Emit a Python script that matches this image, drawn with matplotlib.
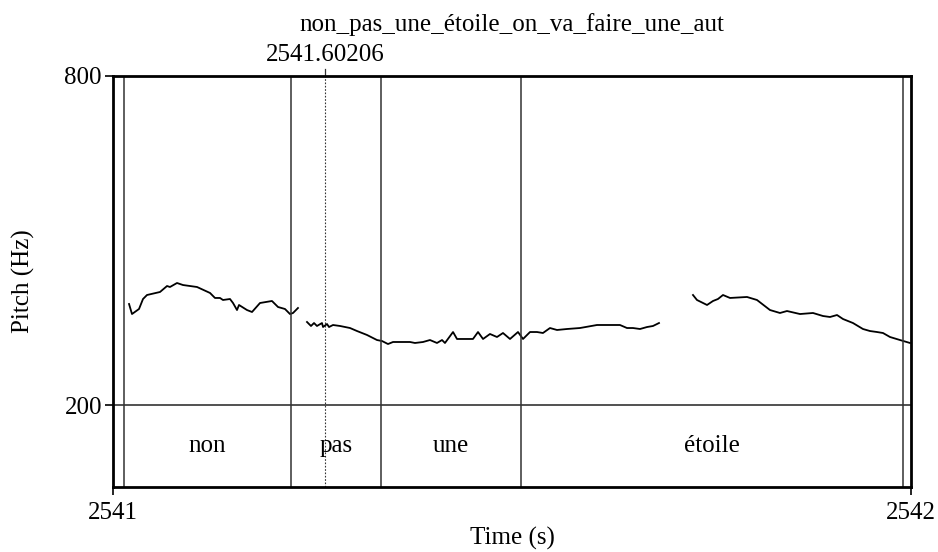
import matplotlib
matplotlib.use("Agg")
import matplotlib.pyplot as plt
import numpy as np

plt.rcParams['font.family'] = ['Liberation Serif', 'DejaVu Serif']

# ---- data ----
t0 = 2541.0
seg1_t = [0.0201, 0.0238, 0.0326, 0.0376, 0.0426, 0.0589, 0.0677, 0.0714, 0.0802, 0.0877,
          0.1053, 0.1216, 0.1278, 0.1341, 0.1378, 0.1466, 0.1504, 0.1554, 0.1579, 0.1679,
          0.1742, 0.1842, 0.1992, 0.2068, 0.2155, 0.2218, 0.2256, 0.2318]
seg1_f = [384.2, 365.9, 375.1, 393.3, 400.6, 406.1, 417.0, 415.2, 422.5, 418.8,
          415.2, 404.3, 395.2, 395.2, 391.5, 393.3, 386.0, 373.2, 382.4, 373.2,
          369.6, 386.0, 389.7, 378.7, 375.1, 365.9, 367.8, 376.9]
seg2_t = [0.2431, 0.2481, 0.2519, 0.2556, 0.2619, 0.2632, 0.2682, 0.2707, 0.2757, 0.2845,
          0.2970, 0.3058, 0.3183, 0.3308, 0.3371, 0.3446, 0.3509, 0.3634, 0.3722, 0.3784,
          0.3885, 0.3972, 0.4060, 0.4123, 0.4160, 0.4261, 0.4311, 0.4511, 0.4574, 0.4637,
          0.4724, 0.4812, 0.4887, 0.4975, 0.5075, 0.5138, 0.5226, 0.5313, 0.5388, 0.5476,
          0.5564, 0.5689, 0.5852, 0.6065, 0.6353, 0.6441, 0.6516, 0.6604, 0.6692, 0.6767,
          0.6842]
seg2_f = [351.4, 344.1, 349.5, 344.1, 349.5, 342.2, 347.7, 342.2, 345.9, 344.1,
          340.4, 334.9, 327.7, 318.5, 316.7, 311.2, 314.9, 314.9, 314.9, 313.1,
          314.9, 318.5, 313.1, 318.5, 313.1, 333.1, 320.4, 320.4, 333.1, 320.4,
          329.5, 324.0, 331.3, 320.4, 333.1, 320.4, 333.1, 333.1, 331.3, 340.4,
          336.8, 338.6, 340.4, 345.9, 345.9, 340.4, 340.4, 338.6, 342.2, 344.1,
          349.5]
seg3_t = [0.7268, 0.7318, 0.7444, 0.7519, 0.7581, 0.7644, 0.7732, 0.7945, 0.8070, 0.8233,
          0.8358, 0.8446, 0.8609, 0.8772, 0.8897, 0.8985, 0.9073, 0.9148, 0.9273, 0.9398,
          0.9486, 0.9574, 0.9649, 0.9737, 0.9862, 0.9987]
seg3_f = [400.6, 391.5, 382.4, 389.7, 393.3, 400.6, 395.2, 397.0, 391.5, 373.2,
          367.8, 371.4, 365.9, 367.8, 362.3, 360.5, 364.1, 356.8, 349.5, 338.6,
          334.9, 333.1, 331.3, 324.0, 318.5, 313.1]

boundaries = [2541.0138, 2541.2231, 2541.3358, 2541.5113, 2541.9900]
words = ["non", "pas", "une", "étoile"]
cursor_t = 2541.2657
cursor_label = "2541.60206"
title = "non_pas_une_étoile_on_va_faire_une_aut"
x_range = (2541, 2542)
f_range = (200, 800)

# ---- figure ----
W, H = 938, 552
fig = plt.figure(figsize=(W / 100, H / 100), dpi=100)
L, R, T, B = 113, 911, 76, 487
ax = fig.add_axes([L / W, 1 - B / H, (R - L) / W, (B - T) / H])

pitch_px = 405 - T
tier_px = B - 405
ybottom = f_range[0] - tier_px / pitch_px * (f_range[1] - f_range[0])
ax.set_xlim(*x_range)
ax.set_ylim(ybottom, f_range[1])

fs = 18
for st, sf in [(seg1_t, seg1_f), (seg2_t, seg2_f), (seg3_t, seg3_f)]:
    ax.plot(t0 + np.array(st), sf, color='black', lw=1.3, solid_joinstyle='round')

ax.axhline(f_range[0], color='#333333', lw=1.2)
for b in boundaries:
    ax.axvline(b, color='#333333', lw=1.1)
ax.axvline(cursor_t, color='#333333', lw=0.8, ls=(0, (1.5, 1.5)))

# tier labels
ymid_tier = (ybottom + f_range[0]) / 2
for i, w in enumerate(words):
    xc = (boundaries[i] + boundaries[i + 1]) / 2
    ax.text(xc, ymid_tier, w, ha='center', va='center', fontsize=fs)

# cursor tick above
ax.plot([cursor_t, cursor_t], [1.0, 1.016], transform=ax.get_xaxis_transform(),
        color='#333333', lw=0.9, clip_on=False)
ax.text(cursor_t, 1.025, cursor_label, transform=ax.get_xaxis_transform(),
        ha='center', va='bottom', fontsize=fs)
ax.text(0.5, 1.097, title, transform=ax.transAxes, ha='center', va='bottom', fontsize=fs)

for s in ax.spines.values():
    s.set_linewidth(2.0)
ax.set_yticks(list(f_range))
ax.set_yticklabels([str(v) for v in f_range], fontsize=fs)
ax.set_xticks(list(x_range))
ax.set_xticklabels([str(v) for v in x_range], fontsize=fs)
ax.tick_params(direction='out', length=6, width=1.2, pad=2)
ax.tick_params(axis='x', pad=5)
ax.set_xlabel("Time (s)", fontsize=fs, labelpad=2)
ax.set_ylabel("Pitch (Hz)", fontsize=fs)
ax.yaxis.set_label_coords(-(L - 35) / (R - L), 0.5)

fig.savefig("out.png", dpi=100)
